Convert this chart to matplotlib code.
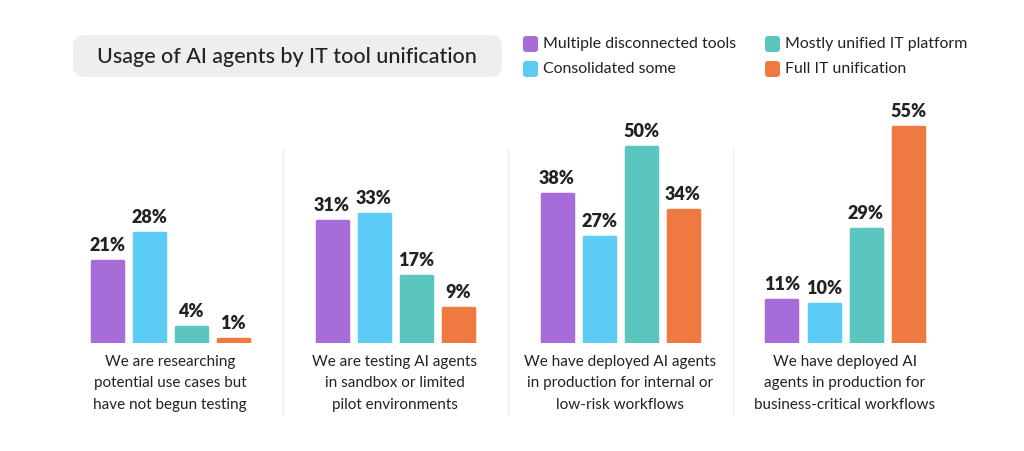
import numpy as np
import matplotlib.pyplot as plt
from matplotlib.patches import FancyBboxPatch

plt.rcParams['font.family'] = ['Lato', 'DejaVu Sans']

categories = [
    "We are researching\npotential use cases but\nhave not begun testing",
    "We are testing AI agents\nin sandbox or limited\npilot environments",
    "We have deployed AI agents\nin production for internal or\nlow-risk workflows",
    "We have deployed AI\nagents in production for\nbusiness-critical workflows",
]
series_names = [
    "Multiple disconnected tools",
    "Consolidated some",
    "Mostly unified IT platform",
    "Full IT unification",
]
multiple_tools = [21, 31, 38, 11]
consolidated = [28, 33, 27, 10]
mostly_unified = [4, 17, 50, 29]
full_unification = [1, 9, 34, 55]
title = "Usage of AI agents by IT tool unification"

colors = ['#a66dd8', '#5ccbf5', '#5bc6bf', '#ee7a41']
text_color = '#222222'

W, H = 1024, 451
fig = plt.figure(figsize=(W / 100, H / 100), dpi=100)
fig.patch.set_facecolor('white')

# axes: full width, baseline at y=343px, 3.92 px per percent
ymax = 60
ax = fig.add_axes([0, (H - 343) / H, 1, ymax * 3.92 / H])
group_px = 225.0
first_center = 170.0
ax.set_xlim(-first_center / group_px, (W - first_center) / group_px)
ax.set_ylim(0, ymax)
ax.axis('off')

bar_w = 34 / group_px
pitch = 42 / group_px
x = np.arange(len(categories))
all_series = [multiple_tools, consolidated, mostly_unified, full_unification]
for j, (vals, c) in enumerate(zip(all_series, colors)):
    xs = x + (j - 1.5) * pitch
    bars = ax.bar(xs, vals, width=bar_w - 3 / group_px, color=c, edgecolor=c,
                  linewidth=2.5, joinstyle='round', zorder=2)
    for b, v in zip(bars, vals):
        ax.annotate(f"{v}%", (b.get_x() + b.get_width() / 2, v),
                    xytext=(0, 7), textcoords='offset pixels',
                    ha='center', va='bottom', fontsize=13, fontweight='heavy',
                    color=text_color)

# category labels under each group
for i, cat in enumerate(categories):
    ax.annotate(cat, (i, 0), xytext=(0, -12), textcoords='offset pixels',
                ha='center', va='top', fontsize=11, color=text_color,
                linespacing=1.68, annotation_clip=False)

# separators between groups
for i in range(1, len(categories)):
    xp = (first_center + (i - 0.5) * group_px) / W
    fig.add_artist(plt.Line2D([xp, xp], [(H - 415) / H, (H - 149) / H],
                              color='#eeeeee', linewidth=1))

# title box
box = FancyBboxPatch((73 / W, (H - 77) / H), 429 / W, 42 / H,
                     boxstyle='round,pad=0,rounding_size=0.012',
                     transform=fig.transFigure, facecolor='#eeeeee',
                     edgecolor='none', mutation_aspect=W / H)
fig.add_artist(box)
fig.text(287 / W, (H - 57) / H, title, ha='center', va='center',
         fontsize=15.5, fontweight='medium', color=text_color)

# legend
legend_pos = [(523, 44), (523, 69), (765, 44), (765, 69)]
for (lx, ly), name, c in zip(legend_pos, series_names, colors):
    sq = FancyBboxPatch((lx / W, (H - ly - 8) / H), 15 / W, 16 / H,
                        boxstyle='round,pad=0,rounding_size=0.003',
                        transform=fig.transFigure, facecolor=c,
                        edgecolor='none', mutation_aspect=W / H)
    fig.add_artist(sq)
    fig.text((lx + 20) / W, (H - ly) / H, name, ha='left', va='center',
             fontsize=11.4, color=text_color)

fig.savefig('out.png', dpi=100, facecolor='white')
